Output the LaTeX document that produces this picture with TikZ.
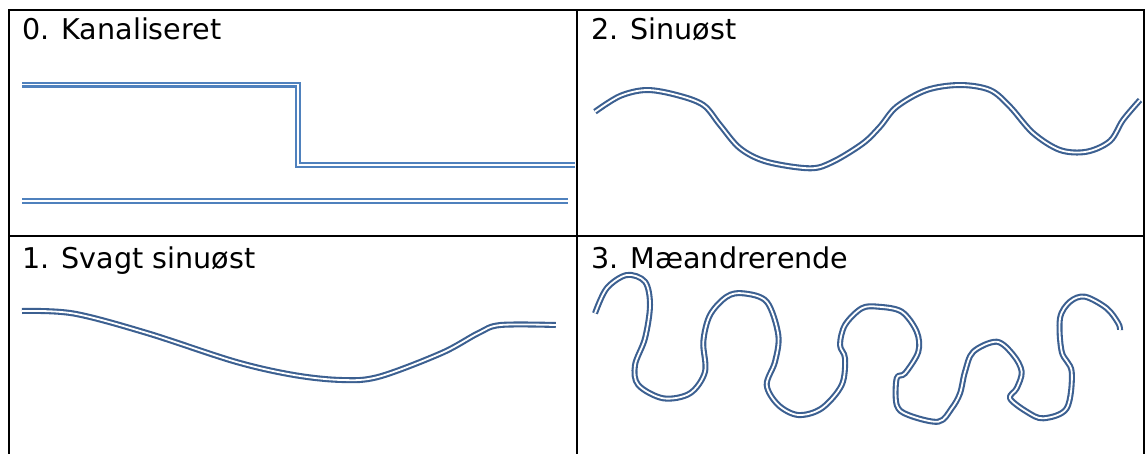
\documentclass[tikz,border=0pt]{standalone}
\usepackage{fontspec}
\setmainfont{DejaVu Sans}
\definecolor{chanA}{RGB}{79,129,189}
\definecolor{chanB}{RGB}{60,96,145}
\begin{document}
\begin{tikzpicture}[x=1pt,y=-1pt,
  grid/.style={line width=2.4pt,black},
  lbl/.style={anchor=base west,inner sep=0pt,font=\fontsize{28.6}{32}\selectfont},
  chanstraight/.style={draw=chanA,line width=2.1pt,double=white,double distance=1.8pt},
  chancurve/.style={draw=chanB,line width=2.1pt,double=white,double distance=1.8pt,line join=round}]
\useasboundingbox[fill=white] (0,0) rectangle (1147,453);
% table grid
\draw[grid] (9,10) -- (1144,10);
\draw[grid] (9,236) -- (1144,236);
\draw[grid] (9,9) -- (9,460);
\draw[grid] (577,9) -- (577,460);
\draw[grid] (1144,9) -- (1144,460);
% labels
\node[lbl] (l0) at (22,39) {0. Kanaliseret};
\node[lbl] (l2) at (591,39) {2. Sinuøst};
\node[lbl] (l1) at (22,268) {1. Svagt sinuøst};
\node[lbl] (l3) at (591,268) {3. Mæandrerende};
% panel 0
\draw[chanstraight] (22,84.5) -- (298,84.5) -- (298,165) -- (575,165);
\draw[chanstraight] (22,201) -- (568,201);
% panel 1
\draw[chancurve] plot[smooth,tension=0.55] coordinates {
 (22,311) (73.6,313.5) (147,333) (235.5,361.7) (294,375) (342,380) (379,376.7)
 (441.7,353) (478.5,333) (500.5,325) (555.8,325)};
% panel 2
\draw[chancurve] plot[smooth,tension=0.55] coordinates {
 (595,111.7) (620,96) (646.7,90) (676.7,95) (703.3,105) (720,125) (740,148.3)
 (766.7,161.7) (810,168.3) (833,161.7) (863,143.3) (880,126.7) (896.7,106.7)
 (926.7,90) (960,85) (990,90) (1010,106.7) (1033,133) (1060,150) (1086.7,151.7)
 (1110,141) (1123,120) (1140,100)};
% panel 3
\draw[chancurve] plot[smooth,tension=0.55] coordinates {
 (595,313.3) (606.7,288.3) (626.7,275) (645,281.7) (650,305) (645,338.3)
 (635,365) (638.3,385) (663.3,398.3) (690,393.3) (705,371.7) (703.3,341.7)
 (710,315) (726.7,296.7) (743.3,293.3) (766.7,301.7) (778.3,335) (775,361.7)
 (766.7,385) (778.3,405) (798.3,415) (821.7,408.3) (841.7,385) (845,358.3)
 (840,345) (845,325) (861.7,308.3) (878.3,306.7) (901.7,311.7) (916.7,331.7)
 (918.3,351.7) (905,373.3) (896.7,378.3) (896.7,405) (908.3,415) (938.3,421.7)
 (951.7,408.3) (960,393.3) (965,371.7) (973.3,351.7) (996.7,341.7) (1013.3,355)
 (1021.7,371.7) (1016.7,388.3) (1010,398.3) (1026.7,411.7) (1043.3,418.3)
 (1066.7,408.3) (1071.7,371.7) (1061.7,351.7) (1060,318.3) (1070,301.7)
 (1085,296.7) (1106.7,308.3) (1118.3,323.3) (1120,330)};
\end{tikzpicture}
\end{document}
